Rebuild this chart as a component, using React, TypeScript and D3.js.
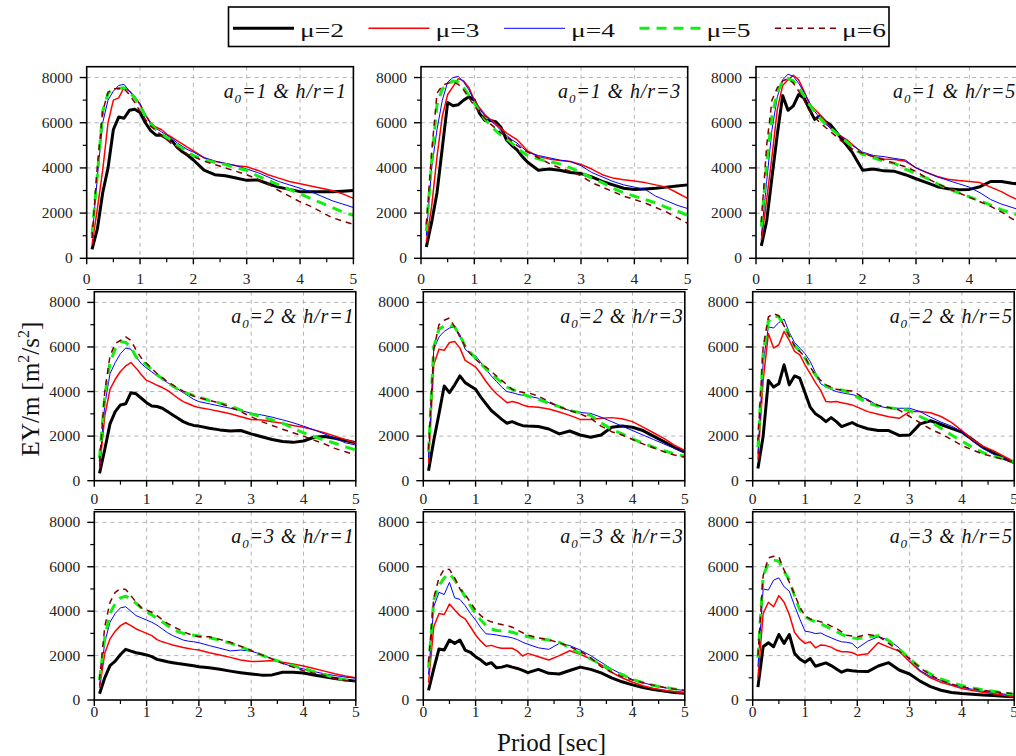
import React from 'react';
import * as d3 from 'd3';

// Period grid (sec)
const PERIOD = [0.1,0.2,0.3,0.4,0.5,0.6,0.7,0.8,0.9,1.0,1.1,1.2,1.3,1.4,1.5,1.6,1.7,1.8,1.9,2.0,
  2.2,2.4,2.6,2.8,3.0,3.2,3.4,3.6,3.8,4.0,4.2,4.4,4.6,4.8,5.0];

const MU_LABELS = ['μ=2', 'μ=3', 'μ=4', 'μ=5', 'μ=6'];
const X_TICKS = [0, 1, 2, 3, 4, 5];
const Y_TICKS = [0, 2000, 4000, 6000, 8000];
const A0_VALUES = [1, 2, 3];
const HR_VALUES = [1, 3, 5];

// a0=1, h/r=1
const A1H1_M2 = [400,1300,2900,4000,5700,6250,6200,6550,6600,6450,6000,5650,5450,5450,5300,5200,4900,4700,4550,4350,3900,3700,3650,3550,3450,3470,3300,3150,3050,2950,2950,2950,2950,2970,3000];
const A1H1_M3 = [600,2200,3900,6000,7000,7100,7550,7400,7150,6800,6350,6000,5800,5700,5500,5350,5200,5050,4900,4750,4450,4300,4200,4100,4050,3900,3700,3550,3400,3300,3200,3100,3000,2850,2650];
const A1H1_M4 = [900,3600,6000,7000,7400,7650,7700,7400,7150,6850,6350,5950,5750,5600,5450,5300,5100,4950,4800,4700,4450,4300,4200,4100,3950,3800,3600,3400,3250,3100,2950,2750,2550,2400,2250];
const A1H1_M5 = [1050,3700,6500,7300,7500,7520,7550,7350,7100,6750,6300,5950,5700,5500,5350,5200,5000,4850,4700,4550,4350,4250,4150,4000,3900,3650,3450,3250,3050,2850,2650,2450,2250,2050,1900];
const A1H1_M6 = [900,4100,6500,7350,7500,7520,7500,7250,6900,6500,6150,5850,5650,5450,5250,5050,4900,4750,4600,4500,4300,4150,4000,3850,3700,3500,3300,3000,2750,2500,2300,2050,1800,1650,1500];

// a0=1, h/r=3
const A1H3_M2 = [500,1600,2900,4900,6900,6750,6800,7000,7150,7000,6400,6100,6100,6050,5800,5250,5000,4800,4500,4250,3900,3950,3900,3800,3750,3600,3400,3250,3100,3050,3070,3100,3150,3200,3250];
const A1H3_M3 = [750,2300,4500,6300,7250,7600,7950,7850,7550,7000,6650,6350,6150,5950,5750,5550,5400,5250,5000,4750,4500,4400,4330,4280,4150,3950,3700,3550,3480,3420,3350,3250,3150,2900,2650];
const A1H3_M4 = [1000,4000,5700,7000,7800,8000,8050,7800,7450,6950,6600,6300,6100,5900,5650,5450,5250,5100,4900,4700,4550,4450,4350,4280,4100,3800,3600,3400,3250,3150,3050,2750,2550,2350,2200];
const A1H3_M5 = [1200,4300,6800,7500,7700,7850,7800,7550,7200,6850,6500,6150,5900,5650,5450,5300,5100,4900,4700,4550,4400,4280,4180,4000,3800,3550,3350,3100,2900,2750,2600,2450,2250,2100,1900];
const A1H3_M6 = [1500,4700,7300,7650,7750,7800,7700,7450,7100,6750,6450,6200,5950,5750,5550,5400,5200,5000,4850,4700,4450,4200,4000,3850,3650,3350,3150,2950,2750,2600,2450,2250,2050,1800,1550];

// a0=1, h/r=5
const A1H5_M2 = [550,1650,3600,5500,7200,6550,6750,7250,7100,6600,6150,6300,6050,5900,5600,5300,5000,4700,4300,3900,3950,3870,3850,3700,3520,3350,3170,3080,3030,3050,3170,3400,3400,3320,3280];
const A1H5_M3 = [800,2600,4500,6600,7650,7900,8100,7900,7400,6850,6600,6350,6050,5750,5550,5400,5250,5050,4850,4650,4500,4400,4370,4300,4000,3800,3620,3500,3440,3400,3350,3150,2950,2700,2500];
const A1H5_M4 = [1000,3400,5700,7150,7900,8150,8050,7750,7350,6900,6500,6200,5950,5750,5550,5400,5200,5000,4850,4700,4550,4500,4420,4350,4000,3800,3600,3450,3300,3150,2900,2600,2400,2250,2100];
const A1H5_M5 = [1400,4200,6300,7350,7850,7950,7850,7550,7200,6800,6500,6200,5950,5750,5550,5350,5150,4950,4750,4600,4450,4300,4200,3950,3750,3550,3300,3080,2900,2720,2550,2350,2150,2000,1850];
const A1H5_M6 = [1600,5000,7000,7550,7850,7950,7750,7400,7000,6550,6250,6000,5800,5600,5400,5200,5000,4850,4750,4650,4500,4350,4200,4050,3850,3550,3300,3100,2900,2700,2500,2300,2050,1750,1550];

// a0=2, h/r=1
const A2H1_M2 = [330,1400,2550,3100,3400,3450,3950,3900,3700,3500,3350,3330,3250,3100,2950,2800,2650,2550,2480,2450,2350,2280,2230,2250,2100,1970,1850,1760,1720,1780,1950,1980,1900,1800,1700];
const A2H1_M3 = [550,2900,4100,4550,4900,5150,5300,5050,4750,4500,4400,4280,4180,4050,3880,3700,3550,3450,3350,3280,3200,3100,3000,2870,2750,2720,2650,2580,2480,2400,2280,2150,2000,1850,1700];
const A2H1_M4 = [650,3400,4800,5300,5700,5950,5900,5550,5250,5050,4880,4700,4550,4400,4250,4100,3950,3800,3650,3550,3450,3350,3250,3150,3030,2950,2850,2730,2600,2450,2280,2100,1900,1700,1600];
const A2H1_M5 = [1000,3800,5300,5900,6250,6200,6000,5550,5350,5200,4980,4750,4580,4400,4250,4100,4000,3900,3820,3750,3600,3480,3350,3170,3000,2870,2730,2580,2350,2150,1980,1820,1680,1520,1380];
const A2H1_M6 = [850,4000,5600,6150,6300,6450,6300,5850,5500,5270,5030,4800,4620,4450,4300,4150,4020,3900,3800,3720,3600,3480,3300,3100,2870,2650,2480,2310,2150,2000,1820,1650,1450,1300,1150];

// a0=2, h/r=3
const A2H3_M2 = [450,1800,3000,4250,3950,4300,4700,4400,4250,4100,3750,3450,3150,2950,2750,2580,2650,2550,2470,2450,2430,2320,2100,2230,2050,1950,2050,2400,2450,2400,2250,2000,1750,1500,1280];
const A2H3_M3 = [800,5200,5900,5850,6200,6250,5950,5400,5250,5100,4800,4450,4150,3900,3700,3500,3550,3500,3400,3330,3300,3220,3080,2930,2750,2750,2800,2830,2780,2650,2400,2150,1900,1600,1350];
const A2H3_M4 = [1050,5900,6450,6700,6850,6900,6550,5900,5700,5600,5300,5000,4700,4450,4200,4000,3950,3880,3830,3800,3700,3500,3300,3150,3060,3020,2850,2650,2450,2250,2050,1850,1650,1450,1250];
const A2H3_M5 = [1300,6000,6800,6950,7000,6900,6500,6050,5750,5500,5250,5000,4800,4600,4400,4200,4100,4000,3900,3800,3650,3480,3320,3150,3050,2930,2600,2300,2100,1880,1680,1500,1350,1200,1100];
const A2H3_M6 = [1400,5900,7000,7200,7300,6900,6450,6020,5700,5450,5250,5100,4900,4700,4500,4300,4100,4000,3970,3950,3800,3550,3320,3150,3000,2800,2450,2200,2050,1850,1650,1480,1300,1150,1050];

// a0=2, h/r=5
const A2H5_M2 = [550,2000,4500,4200,4350,5200,4300,4700,4600,3950,3300,3000,2850,2650,2830,2650,2430,2520,2610,2480,2330,2250,2250,2030,2050,2550,2690,2520,2350,2180,1850,1500,1250,1000,810];
const A2H5_M3 = [950,4500,6600,5950,6100,6700,6300,5800,5650,5200,4800,4400,4050,3550,3530,3550,3500,3450,3400,3300,3100,2980,2870,2800,3100,3100,3050,2880,2620,2250,1850,1550,1350,1100,850];
const A2H5_M4 = [1200,5300,6900,6850,7100,7250,6650,6200,5950,5700,5350,4850,4350,4200,4100,4000,3950,3900,3870,3800,3650,3350,3250,3250,3250,3100,2850,2630,2450,2200,1780,1450,1200,1000,820];
const A2H5_M5 = [1500,5700,7150,7400,7350,7000,6500,6050,5800,5500,5100,4750,4450,4250,4150,4080,4070,4000,3870,3750,3480,3350,3270,3220,3150,2880,2650,2350,2050,1780,1500,1260,1100,980,850];
const A2H5_M6 = [1800,6000,7350,7500,7400,6950,6500,6050,5800,5550,5100,4750,4500,4300,4200,4100,4070,4050,4030,3900,3600,3380,3280,3170,2880,2600,2320,2100,1850,1580,1380,1200,1080,950,850];

// a0=3, h/r=1
const A3H1_M2 = [280,1000,1550,1750,2050,2280,2200,2130,2080,2030,1950,1830,1780,1720,1680,1640,1610,1580,1540,1500,1450,1380,1300,1230,1170,1120,1130,1250,1250,1220,1130,1050,970,900,850];
const A3H1_M3 = [550,2100,2750,3100,3350,3480,3350,3200,3100,3000,2900,2720,2620,2550,2480,2420,2360,2320,2280,2250,2130,2030,1920,1800,1730,1750,1780,1700,1620,1530,1420,1300,1180,1080,1000];
const A3H1_M4 = [650,2600,3500,3900,4150,4200,4000,3800,3700,3600,3500,3370,3200,3030,2900,2800,2700,2650,2620,2580,2450,2330,2210,2250,2200,2050,1850,1650,1500,1400,1280,1180,1100,1030,980];
const A3H1_M5 = [900,2800,3900,4350,4600,4680,4550,4350,4150,3980,3830,3680,3520,3350,3180,3080,3000,2950,2920,2880,2800,2700,2560,2400,2200,2020,1850,1680,1550,1420,1270,1130,1000,900,850];
const A3H1_M6 = [900,3300,4400,4850,5020,4980,4700,4400,4150,4050,3950,3800,3620,3450,3320,3200,3080,2980,2900,2850,2850,2730,2600,2420,2230,2030,1850,1650,1480,1320,1200,1100,960,880,830];

// a0=3, h/r=3
const A3H3_M2 = [430,1400,2300,2250,2700,2550,2700,2250,2150,1950,1800,1600,1680,1450,1480,1550,1480,1420,1330,1230,1380,1200,1170,1330,1480,1380,1220,1000,820,680,560,470,400,340,300];
const A3H3_M3 = [780,3300,3900,3850,4320,4050,3800,3650,3300,2930,2650,2420,2460,2380,2330,2330,2330,2200,1980,2100,1950,1800,2000,2220,2060,1850,1580,1250,1000,800,640,520,440,370,330];
const A3H3_M4 = [1150,4200,4850,4750,5300,4600,4530,4250,3900,3600,3250,2980,2960,2930,2880,2850,2800,2720,2600,2510,2350,2280,2550,2450,2250,2000,1700,1400,1150,920,780,650,560,480,430];
const A3H3_M5 = [1450,4500,5150,5500,5700,5400,5050,4650,4250,3900,3600,3350,3200,3130,3120,3100,3050,2980,2920,2850,2760,2700,2600,2350,2100,1850,1600,1350,1150,920,780,650,570,500,460];
const A3H3_M6 = [1700,4600,5500,5900,5880,5500,5000,4750,4400,4050,3800,3620,3520,3450,3400,3350,3280,3150,3030,2920,2800,2710,2580,2400,2200,1900,1500,1250,1050,900,780,670,570,490,440];

// a0=3, h/r=5
const A3H5_M2 = [580,2400,2580,2400,2950,2550,2950,2100,1850,1700,1870,1520,1600,1670,1550,1400,1250,1350,1320,1300,1280,1530,1680,1350,1170,850,600,440,340,290,260,230,200,170,150];
const A3H5_M3 = [1000,3900,4400,4200,4700,4400,3850,3050,2750,2550,2620,2350,2480,2450,2380,2250,2170,2170,2140,2020,2080,2580,2380,2200,1720,1300,1000,800,660,520,430,350,280,210,150];
const A3H5_M4 = [1500,5000,4950,5400,5500,5100,4900,4250,3650,3100,3060,2990,3020,2900,2800,2700,2620,2600,2550,2330,2650,2850,2700,2350,1800,1330,1060,880,700,580,480,400,330,270,220];
const A3H5_M5 = [1900,5600,6150,6300,6250,5800,5400,4700,4050,3750,3620,3520,3430,3320,3200,3080,2960,2860,2800,2770,2820,2900,2680,2280,1870,1450,1170,950,780,650,540,460,390,320,250];
const A3H5_M6 = [2000,5600,6400,6470,6450,5850,5300,4750,4200,3780,3650,3580,3520,3450,3330,3220,3070,2920,2880,2850,2950,2870,2550,2200,1870,1450,1130,880,720,600,510,440,380,330,290];

const PANEL_SERIES = [
  [A1H1_M2, A1H1_M3, A1H1_M4, A1H1_M5, A1H1_M6],
  [A1H3_M2, A1H3_M3, A1H3_M4, A1H3_M5, A1H3_M6],
  [A1H5_M2, A1H5_M3, A1H5_M4, A1H5_M5, A1H5_M6],
  [A2H1_M2, A2H1_M3, A2H1_M4, A2H1_M5, A2H1_M6],
  [A2H3_M2, A2H3_M3, A2H3_M4, A2H3_M5, A2H3_M6],
  [A2H5_M2, A2H5_M3, A2H5_M4, A2H5_M5, A2H5_M6],
  [A3H1_M2, A3H1_M3, A3H1_M4, A3H1_M5, A3H1_M6],
  [A3H3_M2, A3H3_M3, A3H3_M4, A3H3_M5, A3H3_M6],
  [A3H5_M2, A3H5_M3, A3H5_M4, A3H5_M5, A3H5_M6],
];

const STYLES = [
  { color: '#000000', width: 3, dash: undefined },
  { color: '#ff0000', width: 1.5, dash: undefined },
  { color: '#0000ff', width: 1, dash: undefined },
  { color: '#11ee11', width: 3, dash: '10,7' },
  { color: '#800000', width: 1.5, dash: '6,5' },
];

const ROWS = [
  { top: 66.7, bottom: 258.3, lefts: [86.7, 421, 756], width: 266.7, labelBase: 284, extraLine: true },
  { top: 291.7, bottom: 480.7, lefts: [94.3, 423.3, 752.7], width: 261.5, labelBase: 504, extraLine: true },
  { top: 511.7, bottom: 700, lefts: [94.3, 423.3, 752.7], width: 261.5, labelBase: 717, extraLine: false },
];

const FONT = '"Liberation Serif", "Times New Roman", serif';

function Panel({ idx, left, top, bottom, width, labelBase, extraLine, a0, hr, series }) {
  const xs = d3.scaleLinear().domain([0, 5]).range([left, left + width]);
  const ys = d3.scaleLinear().domain([0, 8480]).range([bottom, top]);
  const line = d3.line<number>()
    .x((_, i) => xs(PERIOD[i]))
    .y((d) => ys(d));
  const clipId = `clip-${idx}`;
  const xMinor = d3.range(0.5, 5, 1);
  const yMinor = d3.range(1000, 8001, 2000);
  return (
    <g>
      <defs>
        <clipPath id={clipId}>
          <rect x={left} y={top} width={width} height={bottom - top} />
        </clipPath>
      </defs>
      {/* grid */}
      {X_TICKS.filter((t) => t > 0 && t < 5).map((t) => (
        <line key={'gx' + t} x1={xs(t)} x2={xs(t)} y1={top} y2={bottom}
          stroke="#b4b4b4" strokeWidth={1} strokeDasharray="4,4" />
      ))}
      {Y_TICKS.filter((t) => t > 0).map((t) => (
        <line key={'gy' + t} x1={left} x2={left + width} y1={ys(t)} y2={ys(t)}
          stroke="#b4b4b4" strokeWidth={1} strokeDasharray="4,4" />
      ))}
      {/* series */}
      <g clipPath={`url(#${clipId})`}>
        {series.map((s, i) => (
          <path key={i} d={line(s) || ''} fill="none" stroke={STYLES[i].color}
            strokeWidth={STYLES[i].width} strokeDasharray={STYLES[i].dash}
            strokeLinejoin="round" />
        ))}
      </g>
      {/* frame */}
      <rect x={left} y={top} width={width} height={bottom - top} fill="none" stroke="#000" strokeWidth={1.6} />
      {/* y ticks */}
      {Y_TICKS.map((t) => (
        <g key={'yt' + t}>
          <line x1={left - 7} x2={left} y1={ys(t)} y2={ys(t)} stroke="#000" strokeWidth={1.4} />
          <text x={left - 14} y={ys(t) + 5} textAnchor="end" fontFamily={FONT} fontSize={15.5} fill="#222">{t}</text>
        </g>
      ))}
      {yMinor.map((t) => (
        <line key={'ym' + t} x1={left - 4} x2={left} y1={ys(t)} y2={ys(t)} stroke="#000" strokeWidth={1.2} />
      ))}
      {/* x ticks */}
      {X_TICKS.map((t) => (
        <g key={'xt' + t}>
          <line x1={xs(t)} x2={xs(t)} y1={bottom} y2={bottom + 6} stroke="#000" strokeWidth={1.4} />
          <text x={xs(t)} y={labelBase} textAnchor="middle" fontFamily={FONT} fontSize={15.5} fill="#222">{t}</text>
        </g>
      ))}
      {xMinor.map((t) => (
        <line key={'xm' + t} x1={xs(t)} x2={xs(t)} y1={bottom} y2={bottom + 4} stroke="#000" strokeWidth={1.2} />
      ))}
      {extraLine && (
        <line x1={left} x2={left + width} y1={labelBase + 5.5} y2={labelBase + 5.5} stroke="#000" strokeWidth={1} />
      )}
      {/* panel label */}
      <text x={left + 137} y={top + 31} fontFamily={FONT} fontStyle="italic" fontSize={20} letterSpacing={0.9} fill="#111">
        a<tspan fontSize={13} dy={5}>0</tspan><tspan dy={-5}>={a0} &amp; h/r={hr}</tspan>
      </text>
    </g>
  );
}

function Legend() {
  const x0 = 233;
  const step = 135.5;
  return (
    <g>
      <rect x={228.5} y={7} width={660.5} height={39.5} fill="#fff" stroke="#000" strokeWidth={1.6} />
      {MU_LABELS.map((lab, i) => (
        <g key={lab}>
          <line x1={x0 + i * step} x2={x0 + i * step + 61} y1={28.3} y2={28.3}
            stroke={STYLES[i].color} strokeWidth={STYLES[i].width}
            strokeDasharray={STYLES[i].dash} />
          <text x={x0 + i * step + 67} y={37} fontFamily={FONT} fontSize={19}
            textLength={44} lengthAdjust="spacingAndGlyphs" fill="#111">{lab}</text>
        </g>
      ))}
    </g>
  );
}

export default function App() {
  const panels = [];
  let idx = 0;
  ROWS.forEach((row, r) => {
    row.lefts.forEach((left, c) => {
      panels.push(
        <Panel key={idx} idx={idx} left={left} top={row.top} bottom={row.bottom}
          width={row.width} labelBase={row.labelBase} extraLine={row.extraLine}
          a0={A0_VALUES[r]} hr={HR_VALUES[c]} series={PANEL_SERIES[idx]} />
      );
      idx++;
    });
  });
  return (
    <svg width={1016} height={756} viewBox="0 0 1016 756"
      style={{ position: 'absolute', left: 0, top: 0, background: '#fff' }}>
      <rect x={0} y={0} width={1016} height={756} fill="#fff" />
      {panels}
      <Legend />
      <text transform="translate(38.5,389) rotate(-90)" textAnchor="middle" fontFamily={FONT} fontSize={25} fill="#111">
        EY/m [m<tspan fontSize={16} dy={-10}>2</tspan><tspan dy={10}>/s</tspan><tspan fontSize={16} dy={-10}>2</tspan><tspan dy={10}>]</tspan>
      </text>
      <text x={551.5} y={750.5} textAnchor="middle" fontFamily={FONT} fontSize={25} fill="#111">Priod [sec]</text>
    </svg>
  );
}
